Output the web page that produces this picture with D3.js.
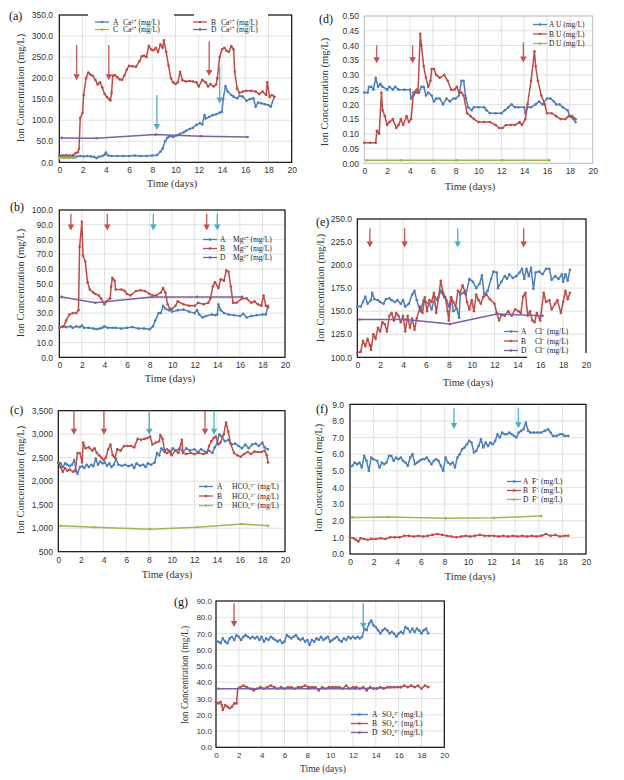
<!DOCTYPE html>
<html><head><meta charset="utf-8">
<script src="https://cdn.jsdelivr.net/npm/d3@7"></script>
<style>body{margin:0;background:#fff}svg{display:block;font-family:"Liberation Serif","Times New Roman",serif}</style>
</head><body><svg id="c" width="624" height="780"></svg>
<script>
// ---------- DATA ----------
const xTicks = [0,2,4,6,8,10,12,14,16,18,20];

// (a) Ca2+
const caA = [[0,14],[0.3,15],[0.6,13],[0.9,14],[1.2,13],[1.5,14],[1.8,15],[2.1,14],[2.4,15],[2.7,14],[3.0,13],[3.2,10],[3.4,13],[3.7,15],[3.9,18],[4.0,23],[4.2,16],[4.5,15],[5.0,15],[5.5,15],[6.0,15],[6.5,16],[7.0,15],[7.5,15],[8.0,16],[8.4,17],[8.7,25],[8.9,33],[9.1,50],[9.3,58],[9.5,62],[9.8,60],[10.1,64],[10.4,68],[10.7,71],[10.9,75],[11.2,79],[11.5,82],[11.8,89],[12.1,93],[12.3,90],[12.5,112],[12.6,104],[12.9,108],[13.2,112],[13.5,114],[13.8,118],[14.0,120],[14.1,150],[14.3,181],[14.5,168],[14.8,160],[15.0,156],[15.3,152],[15.5,158],[15.8,156],[16.1,146],[16.4,150],[16.7,152],[16.9,132],[17.1,142],[17.4,140],[17.7,138],[18.0,136],[18.2,132],[18.5,156]];
const caB = [[0,17],[0.3,16],[0.6,17],[0.9,16],[1.2,17],[1.4,22],[1.6,24],[1.7,32],[1.8,105],[2.0,117],[2.1,160],[2.3,200],[2.5,213],[2.7,208],[2.9,205],[3.1,196],[3.3,185],[3.5,190],[3.7,178],[3.9,162],[4.1,155],[4.3,150],[4.4,147],[4.5,165],[4.6,206],[4.8,207],[5.0,202],[5.2,197],[5.4,196],[5.6,206],[5.8,220],[6.0,229],[6.3,228],[6.6,227],[6.9,240],[7.1,252],[7.3,253],[7.5,250],[7.7,277],[7.9,268],[8.1,266],[8.3,272],[8.5,262],[8.7,280],[8.9,272],[9.0,290],[9.2,262],[9.4,230],[9.6,200],[9.8,190],[10.0,186],[10.2,190],[10.4,215],[10.6,195],[10.9,192],[11.2,193],[11.5,192],[11.8,190],[12.0,180],[12.3,196],[12.6,190],[12.8,180],[13.0,186],[13.3,180],[13.5,185],[13.6,200],[13.8,250],[14.0,268],[14.2,272],[14.4,265],[14.6,262],[14.8,276],[15.0,268],[15.1,215],[15.3,175],[15.5,165],[15.8,168],[16.1,170],[16.5,170],[16.9,168],[17.2,162],[17.5,168],[17.8,160],[17.9,190],[18.1,155],[18.3,160],[18.5,155]];
const caC = [[0,10],[0.2,11],[0.4,10],[0.6,11],[0.8,10],[1.0,11],[1.2,10],[1.4,11]];
const caD = [[0.2,58],[3.2,57],[8.3,66],[12.2,62],[16.2,60]];

// (b) Mg2+
const mgA = [[0,20],[0.3,21],[0.6,20.5],[1.0,21],[1.2,20],[1.5,21],[1.8,20.5],[2.0,21.5],[2.2,20],[2.6,20],[3.0,19.5],[3.3,19],[3.6,19.5],[3.8,20],[4.0,21],[4.3,20],[4.7,20],[5.0,20],[5.5,19.5],[6.0,20],[6.5,20.5],[7.0,19.5],[7.5,19.5],[8.0,19],[8.3,21],[8.5,25],[8.8,30],[9.0,30],[9.2,35],[9.4,33],[9.7,32],[10.0,31],[10.5,32],[11.0,32.5],[11.5,31],[12.0,30],[12.2,32],[12.4,29],[12.7,27],[13.0,28],[13.5,29],[13.8,28.5],[14.0,29],[14.1,36],[14.3,32],[14.6,30],[15.0,29],[15.5,28.5],[16.0,28],[16.3,29.5],[16.6,27],[17.0,28],[17.5,28.5],[18.0,29],[18.3,29],[18.5,35]];
const mgB = [[0,20],[0.4,21],[0.6,25],[0.9,29],[1.2,30],[1.5,30],[1.7,32],[1.8,75],[2.0,92],[2.1,69],[2.3,65],[2.5,51],[2.7,46],[3.0,44],[3.2,43],[3.5,42],[3.7,40],[4.0,36],[4.2,38],[4.5,40],[4.6,48],[4.7,54],[4.9,52],[5.0,46],[5.5,46],[5.8,45],[6.0,43],[6.3,42],[6.8,45],[7.2,45.5],[7.6,45],[8.0,43],[8.3,42],[8.6,42],[9.0,44],[9.2,47],[9.4,44],[9.6,36],[9.8,33],[10.0,33],[10.3,35],[10.5,38],[11.0,36],[11.5,35],[12.0,35],[12.3,37],[12.8,36],[13.2,37],[13.4,40],[13.6,48],[13.8,51],[14.1,47],[14.3,53],[14.6,52],[14.8,59],[15.0,58],[15.2,48],[15.4,37],[15.7,37],[16.2,40],[16.6,40],[17.0,37],[17.3,38],[17.6,36],[17.9,35],[18.1,42],[18.3,35],[18.5,34]];
const mgD = [[0.2,41],[3.2,37],[8.2,41],[12.2,41],[16.2,41]];

// (c) HCO3
const hcoA = [[0,2400],[0.2,2380],[0.4,2300],[0.6,2380],[0.8,2350],[1.0,2320],[1.2,2350],[1.4,2450],[1.6,2200],[1.7,2160],[1.9,2300],[2.1,2320],[2.3,2280],[2.5,2350],[2.7,2300],[2.9,2350],[3.1,2320],[3.3,2480],[3.5,2350],[3.7,2420],[3.9,2380],[4.1,2400],[4.3,2330],[4.5,2380],[4.7,2300],[4.9,2350],[5.1,2480],[5.3,2350],[5.6,2330],[5.9,2350],[6.2,2320],[6.5,2350],[6.7,2280],[6.9,2380],[7.2,2330],[7.5,2350],[7.7,2300],[7.9,2380],[8.2,2350],[8.5,2400],[8.7,2600],[8.9,2550],[9.1,2700],[9.3,2650],[9.6,2680],[9.9,2600],[10.1,2700],[10.4,2650],[10.7,2700],[11.0,2620],[11.3,2700],[11.6,2650],[12.0,2680],[12.3,2620],[12.6,2680],[13.0,2620],[13.3,2650],[13.6,2600],[13.8,2720],[14.0,2800],[14.2,3000],[14.4,2950],[14.7,2850],[15.0,2880],[15.3,2780],[15.6,2800],[15.9,2750],[16.2,2700],[16.5,2780],[16.8,2700],[17.1,2780],[17.4,2800],[17.7,2750],[18.0,2820],[18.2,2720],[18.5,2680]];
const hcoB = [[0,2400],[0.2,2300],[0.4,2200],[0.6,2280],[0.8,2220],[1.0,2250],[1.3,2200],[1.5,2230],[1.7,2600],[1.9,2600],[2.1,2400],[2.2,2820],[2.4,2700],[2.7,2720],[3.0,2650],[3.2,2700],[3.4,2600],[3.6,2550],[3.8,2500],[4.0,2450],[4.2,2500],[4.4,2680],[4.6,2780],[4.8,2550],[5.0,2500],[5.2,2680],[5.5,2650],[5.8,2750],[6.1,2750],[6.4,2750],[6.7,2720],[7.0,2900],[7.3,2880],[7.6,2900],[7.9,2920],[8.1,2950],[8.3,2780],[8.6,2820],[8.9,2850],[9.0,2980],[9.2,2900],[9.4,2620],[9.6,2600],[9.8,2650],[10.0,2550],[10.3,2650],[10.6,2600],[10.9,2880],[11.0,2600],[11.3,2580],[11.7,2600],[12.0,2580],[12.4,2600],[12.8,2580],[13.1,2600],[13.3,2750],[13.5,2850],[13.7,2920],[13.9,2950],[14.1,2780],[14.3,2820],[14.6,3000],[14.8,3250],[15.0,3050],[15.2,2800],[15.5,2600],[15.8,2550],[16.1,2520],[16.4,2580],[16.7,2620],[17.0,2580],[17.3,2630],[17.6,2620],[17.9,2620],[18.2,2650],[18.4,2550],[18.5,2400]];
const hcoD = [[0.2,1050],[3.2,1020],[8.1,980],[12.2,1020],[16.2,1090],[18.5,1050]];

// (d) U
const uA = [[0,0.24],[0.3,0.24],[0.4,0.26],[0.6,0.26],[0.8,0.25],[1.0,0.29],[1.2,0.26],[1.4,0.27],[1.6,0.26],[2.0,0.25],[2.2,0.26],[2.5,0.25],[2.7,0.26],[3.0,0.25],[3.5,0.25],[4.0,0.25],[4.1,0.22],[4.3,0.23],[4.5,0.24],[4.8,0.24],[5.0,0.26],[5.2,0.26],[5.4,0.23],[5.6,0.24],[5.9,0.23],[6.1,0.21],[6.3,0.22],[6.6,0.22],[6.9,0.20],[7.2,0.22],[7.5,0.21],[7.8,0.22],[8.0,0.22],[8.3,0.23],[8.5,0.28],[8.7,0.28],[8.9,0.22],[9.1,0.19],[9.4,0.18],[9.6,0.19],[10.0,0.19],[10.5,0.19],[10.7,0.18],[11.0,0.17],[11.5,0.17],[12.0,0.17],[12.3,0.18],[12.6,0.19],[12.9,0.20],[13.2,0.19],[13.5,0.19],[14.0,0.19],[14.1,0.17],[14.3,0.19],[14.6,0.19],[15.0,0.20],[15.3,0.21],[15.6,0.20],[16.0,0.22],[16.3,0.22],[16.6,0.21],[16.8,0.20],[17.1,0.20],[17.4,0.19],[17.8,0.18],[18.0,0.16],[18.3,0.15],[18.5,0.14]];
const uB = [[0,0.07],[0.5,0.07],[1.0,0.07],[1.1,0.11],[1.3,0.10],[1.5,0.24],[1.6,0.18],[1.8,0.16],[2.0,0.13],[2.2,0.14],[2.5,0.15],[2.8,0.12],[3.0,0.13],[3.2,0.15],[3.4,0.13],[3.7,0.16],[3.9,0.14],[4.1,0.15],[4.3,0.24],[4.6,0.25],[4.7,0.24],[4.9,0.44],[5.0,0.40],[5.2,0.33],[5.4,0.29],[5.6,0.26],[5.8,0.28],[5.9,0.32],[6.1,0.32],[6.3,0.30],[6.6,0.29],[7.0,0.30],[7.3,0.28],[7.6,0.25],[7.9,0.25],[8.1,0.26],[8.3,0.24],[8.5,0.24],[8.7,0.23],[9.0,0.17],[9.3,0.16],[9.6,0.15],[10.0,0.14],[10.5,0.14],[11.0,0.14],[11.5,0.13],[11.8,0.12],[12.1,0.12],[12.4,0.13],[12.8,0.13],[13.2,0.13],[13.6,0.14],[13.8,0.13],[14.1,0.15],[14.3,0.20],[14.6,0.28],[14.9,0.38],[15.0,0.33],[15.2,0.28],[15.5,0.23],[15.8,0.20],[16.0,0.17],[16.4,0.17],[16.8,0.16],[17.2,0.15],[17.6,0.15],[17.9,0.16],[18.2,0.16],[18.5,0.15]];
const uD = [[0.2,0.01],[3.2,0.01],[8.1,0.01],[12.1,0.01],[16.2,0.01]];

// (e) Cl-
const clA = [[0,155],[0.3,155],[0.5,160],[0.7,166],[0.9,158],[1.2,162],[1.3,170],[1.5,163],[1.8,162],[2.0,160],[2.3,158],[2.5,163],[2.8,164],[3.0,162],[3.3,160],[3.5,162],[3.8,158],[4.0,162],[4.2,155],[4.5,158],[4.8,168],[5.0,172],[5.2,162],[5.5,150],[5.8,162],[6.0,160],[6.3,158],[6.5,152],[6.8,165],[7.0,162],[7.3,172],[7.6,165],[7.8,162],[8.0,155],[8.2,165],[8.4,150],[8.7,153],[8.9,143],[9.0,168],[9.3,170],[9.5,168],[9.8,185],[10.1,182],[10.4,175],[10.7,180],[10.9,189],[11.1,168],[11.4,172],[11.7,185],[11.9,193],[12.2,192],[12.3,175],[12.6,182],[12.9,188],[13.1,185],[13.3,190],[13.6,186],[13.9,188],[14.2,192],[14.4,196],[14.6,185],[14.8,196],[15.0,188],[15.2,197],[15.4,174],[15.6,192],[15.9,193],[16.2,190],[16.5,196],[16.8,196],[17.0,184],[17.3,188],[17.6,185],[17.9,190],[18.0,182],[18.2,190],[18.4,183],[18.6,195]];
const clB = [[0,105],[0.3,106],[0.5,118],[0.7,112],[0.9,120],[1.1,113],[1.2,108],[1.4,125],[1.6,120],[1.8,132],[2.0,128],[2.2,138],[2.4,136],[2.6,128],[2.8,145],[3.0,148],[3.2,140],[3.4,148],[3.6,145],[3.8,138],[4.0,145],[4.2,128],[4.4,145],[4.6,132],[4.8,142],[5.0,130],[5.2,142],[5.5,155],[5.7,148],[5.9,165],[6.1,150],[6.3,162],[6.5,160],[6.7,170],[6.9,148],[7.1,165],[7.3,183],[7.5,170],[7.7,165],[7.9,150],[8.0,140],[8.2,165],[8.4,160],[8.6,155],[8.8,172],[9.0,170],[9.2,178],[9.4,172],[9.6,160],[9.8,152],[10.0,162],[10.2,150],[10.4,168],[10.6,162],[10.8,158],[11.0,165],[11.3,168],[11.6,163],[12.0,158],[12.2,148],[12.4,140],[12.6,146],[12.9,145],[13.2,150],[13.5,145],[13.8,152],[14.1,150],[14.3,148],[14.5,166],[14.7,170],[14.9,145],[15.1,150],[15.3,140],[15.5,138],[15.7,148],[16.0,140],[16.3,170],[16.5,160],[16.8,162],[17.0,152],[17.3,158],[17.5,162],[17.8,148],[18.0,160],[18.2,172],[18.4,163],[18.6,170]];
const clD = [[0.2,141],[4.2,141],[8.1,136],[12.2,147],[16.2,145]];

// (f) F-
const fA = [[0,5.2],[0.2,5.3],[0.4,5.5],[0.6,5.4],[0.8,5.5],[1.0,5.2],[1.2,5.9],[1.4,5.6],[1.6,5.0],[1.8,5.8],[2.0,5.7],[2.3,5.6],[2.5,5.2],[2.7,5.5],[2.9,5.4],[3.1,5.5],[3.3,5.9],[3.5,5.9],[3.7,5.6],[3.9,5.8],[4.1,5.7],[4.3,5.8],[4.5,5.6],[4.7,5.5],[4.9,5.3],[5.1,5.8],[5.3,6.0],[5.5,5.4],[5.7,5.5],[5.9,5.6],[6.1,5.7],[6.3,5.7],[6.5,5.8],[6.7,5.6],[6.9,5.4],[7.1,5.6],[7.3,5.7],[7.5,5.6],[7.7,5.3],[7.9,5.0],[8.1,5.8],[8.3,5.5],[8.5,5.4],[8.7,5.5],[8.9,5.2],[9.1,5.8],[9.3,6.0],[9.5,6.3],[9.7,6.4],[9.9,6.6],[10.1,6.8],[10.3,6.7],[10.5,6.1],[10.7,6.2],[10.9,6.5],[11.1,6.9],[11.3,6.4],[11.5,6.7],[11.7,6.5],[11.9,6.7],[12.1,6.6],[12.3,6.8],[12.5,7.2],[12.7,7.0],[12.9,7.3],[13.1,7.2],[13.3,7.2],[13.5,7.3],[13.7,7.2],[13.9,7.1],[14.1,7.0],[14.3,7.3],[14.5,7.4],[14.7,7.5],[14.9,7.9],[15.1,7.4],[15.3,7.3],[15.6,7.3],[15.9,7.3],[16.2,7.3],[16.5,7.4],[16.8,7.5],[17.0,7.3],[17.2,7.1],[17.5,7.1],[17.8,7.2],[18.0,7.2],[18.2,7.1],[18.5,7.1]];
const fB = [[0,1.0],[0.3,0.95],[0.5,0.85],[0.7,0.75],[0.9,0.95],[1.2,0.9],[1.5,0.85],[1.8,0.9],[2.2,0.9],[2.6,0.95],[3.0,0.9],[3.4,1.0],[3.8,1.0],[4.2,1.0],[4.6,1.1],[5.0,1.1],[5.4,1.05],[5.8,1.1],[6.2,1.05],[6.6,1.1],[7.0,1.15],[7.4,1.2],[7.8,1.15],[8.2,1.1],[8.6,1.05],[9.0,1.0],[9.4,1.05],[9.8,1.1],[10.2,1.05],[10.6,1.1],[11.0,1.15],[11.4,1.1],[11.8,1.1],[12.2,1.1],[12.6,1.05],[13.0,1.1],[13.4,1.05],[13.8,1.1],[14.2,1.05],[14.6,1.1],[15.0,1.05],[15.4,1.1],[15.8,1.05],[16.2,1.1],[16.6,1.2],[17.0,1.1],[17.4,1.15],[17.8,1.05],[18.2,1.1],[18.5,1.1]];
const fD = [[0.2,2.2],[3.2,2.22],[8.1,2.15],[12.2,2.18],[16.2,2.28]];

// (g) SO4 2-
const soA = [[0,65],[0.2,65],[0.4,64],[0.6,67],[0.8,65],[1.0,64],[1.2,67],[1.4,68],[1.6,66],[1.8,69],[2.0,68],[2.2,66],[2.4,68],[2.6,69],[2.8,68],[3.0,67],[3.2,68],[3.4,67],[3.6,68],[3.8,66],[4.0,68],[4.2,65],[4.4,67],[4.6,66],[4.8,68],[5.0,67],[5.2,66],[5.4,65],[5.6,66],[5.8,64],[6.0,65],[6.2,69],[6.4,68],[6.6,67],[6.8,68],[7.0,69],[7.2,67],[7.4,66],[7.6,67],[7.8,65],[8.0,66],[8.2,63],[8.4,66],[8.6,65],[8.8,67],[9.0,66],[9.2,68],[9.4,66],[9.6,67],[9.8,68],[10.0,65],[10.2,66],[10.4,67],[10.6,68],[10.8,66],[11.0,65],[11.2,67],[11.4,66],[11.6,68],[11.8,67],[12.0,68],[12.2,67],[12.4,68],[12.6,67],[12.8,68],[13.0,73],[13.2,72],[13.4,76],[13.6,78],[13.8,75],[14.0,74],[14.2,72],[14.4,70],[14.6,72],[14.8,73],[15.0,72],[15.2,70],[15.4,71],[15.6,70],[15.8,68],[16.0,70],[16.2,71],[16.4,70],[16.6,74],[16.8,73],[17.0,71],[17.2,73],[17.4,71],[17.6,73],[17.8,72],[18.0,70],[18.2,72],[18.4,73],[18.6,70]];
const soB = [[0,28],[0.2,27],[0.4,28],[0.5,26],[0.6,23],[0.8,26],[1.0,25],[1.2,24],[1.4,25],[1.6,27],[1.8,27],[1.9,36],[2.1,37],[2.4,38],[2.7,37],[3.0,36],[3.3,35],[3.6,36],[3.9,37],[4.2,36],[4.5,37],[4.8,38],[5.1,37],[5.4,36],[5.7,37],[6.0,36],[6.3,37],[6.6,37],[6.9,36],[7.2,37],[7.5,37],[7.8,38],[8.1,37],[8.4,37],[8.7,37],[9.0,35],[9.3,37],[9.6,36],[9.9,37],[10.2,37],[10.5,37],[10.8,37],[11.1,36],[11.4,38],[11.7,36],[12.0,37],[12.3,37],[12.6,36],[12.9,37],[13.2,35],[13.5,37],[13.8,36],[14.1,36],[14.4,37],[14.7,36],[15.0,37],[15.3,37],[15.6,37],[15.9,37],[16.2,37],[16.5,38],[16.8,37],[17.1,38],[17.4,37],[17.7,38],[18.0,36],[18.3,38],[18.6,37]];
const soD = [[0.2,36],[3.2,36],[8.1,36],[12.2,36],[16.2,37]];

// arrows: [day, from, to, kind]
const arrowsA = [[1.49,279,195,"r"],[4.26,279,195,"r"],[12.9,287,205,"r"],[8.4,160,77,"t"],[13.8,227,140,"t"]];
const arrowsB = [[1.03,97.5,86,"r"],[4.25,97.5,86,"r"],[8.33,97.5,86,"t"],[13.06,97.5,86,"r"],[14.0,97.5,86,"t"]];
const arrowsC = [[1.38,3500,2990,"r"],[4.03,3500,2990,"r"],[8.03,3500,2990,"t"],[12.94,3500,2990,"r"],[13.74,3500,2990,"t"]];
const arrowsD = [[1.08,0.40,0.34,"r"],[4.23,0.40,0.34,"r"],[13.93,0.41,0.342,"r"]];
const arrowsE = [[1.1,240,219,"r"],[4.14,240,219,"r"],[8.78,240,219,"t"],[14.55,240,219,"r"]];
const arrowsF = [[8.81,8.76,7.52,"t"],[14.27,8.8,7.56,"t"]];
const arrowsG = [[1.58,88.6,74,"r"],[12.9,88.6,73,"t"]];

// ---------- STYLE ----------
const C = {A:"#4a7ebb",B:"#be4b48",G:"#98b954",P:"#7d60a0"};
const ARROW = {r:"#c0504d", t:"#4bacc6"};

const panels = [
 {id:"(a)", l:59.3,r:291.7,t:15,b:162.3, dom:[0,350], step:50, fmt:".1f", frame:"#000",
  lab:[9,20], yt:[24,88], xt:[172,187], ytEnd:53, fs:8.5, tfs:10.5,
  series:[{d:caA,c:C.A,k:"A"},{d:caB,c:C.B,k:"B"},{d:caC,c:C.G,k:"C"},{d:caD,c:C.P,k:"D"}],
  arrows:arrowsA,
  legBg:[[88,11,86,23],[194,11,74,23]],
  legend:[{x:95,y:22,k:"A",c:C.A,t:"Ca²⁺ (mg/L)"},{x:95,y:29.5,k:"C",c:C.G,t:"Ca²⁺ (mg/L)"},
          {x:193,y:22,k:"B",c:C.B,t:"Ca²⁺ (mg/L)"},{x:193,y:29.5,k:"D",c:C.P,t:"Ca²⁺ (mg/L)"}],
  lo:[14,18,28]},
 {id:"(d)", l:364.3,r:592.7,t:16,b:163.3, dom:[0,0.5], step:0.05, fmt:".2f", frame:"#bfbfbf",
  lab:[319,23], yt:[328,92], xt:[470,190], ytEnd:359, fs:8.5, tfs:10.5,
  series:[{d:uA,c:C.A},{d:uB,c:C.B},{d:uD,c:C.G}],
  arrows:arrowsD, legBg:[],
  legend:[{x:533,y:24.5,k:"A",c:C.A,t:"U (mg/L)"},{x:533,y:34,k:"B",c:C.B,t:"U (mg/L)"},{x:533,y:43.5,k:"D",c:C.G,t:"U (mg/L)"}],
  lo:[14,16,23]},
 {id:"(b)", l:59.3,r:285,t:210,b:357.3, dom:[0,100], step:10, fmt:".1f", frame:"#000",
  lab:[10,211], yt:[24,283], xt:[170,382], ytEnd:53, fs:8.5, tfs:10.5,
  series:[{d:mgA,c:C.A},{d:mgB,c:C.B},{d:mgD,c:C.P}],
  arrows:arrowsB, legBg:[],
  legend:[{x:203,y:239.5,k:"A",c:C.A,t:"Mg²⁺ (mg/L)"},{x:203,y:248.5,k:"B",c:C.B,t:"Mg²⁺ (mg/L)"},{x:203,y:257.5,k:"D",c:C.P,t:"Mg²⁺ (mg/L)"}],
  lo:[14,17,30]},
 {id:"(e)", l:357.3,r:586,t:219,b:357.3, dom:[100,250], step:25, fmt:".1f", frame:"#000",
  lab:[316,226], yt:[324,288], xt:[468,386], ytEnd:352, fs:8.5, tfs:10.5,
  series:[{d:clA,c:C.A},{d:clB,c:C.B},{d:clD,c:C.P}],
  arrows:arrowsE, legBg:[[527,353,66,9]],
  legend:[{x:504,y:331.5,k:"A",c:C.A,t:"Cl⁻ (mg/L)"},{x:504,y:341,k:"B",c:C.B,t:"Cl⁻ (mg/L)"},{x:504,y:350.5,k:"D",c:C.P,t:"Cl⁻ (mg/L)"}],
  lo:[14,17,31]},
 {id:"(c)", l:58.3,r:285,t:410.7,b:551.7, dom:[500,3500], step:500, fmt:",", frame:"#000",
  lab:[10,414], yt:[24,480], xt:[167,578], ytEnd:53, fs:8.5, tfs:10.5,
  series:[{d:hcoA,c:C.A},{d:hcoB,c:C.B},{d:hcoD,c:C.G}],
  arrows:arrowsC, legBg:[],
  legend:[{x:199,y:486.5,k:"A",c:C.A,t:"HCO₃²⁻ (mg/L)"},{x:199,y:496,k:"B",c:C.B,t:"HCO₃²⁻ (mg/L)"},{x:199,y:505.5,k:"D",c:C.G,t:"HCO₃²⁻ (mg/L)"}],
  lo:[14,18,33]},
 {id:"(f)", l:350,r:586,t:404.3,b:554, dom:[0,9], step:1, fmt:".1f", frame:"#000",
  lab:[316,413], yt:[322,478], xt:[470,580], ytEnd:344, fs:8.5, tfs:10.5,
  series:[{d:fA,c:C.A},{d:fB,c:C.B},{d:fD,c:C.G}],
  arrows:arrowsF, legBg:[],
  legend:[{x:507,y:481.5,k:"A",c:C.A,t:"F⁻ (mg/L)"},{x:507,y:490.5,k:"B",c:C.B,t:"F⁻ (mg/L)"},{x:507,y:499.5,k:"D",c:C.G,t:"F⁻ (mg/L)"}],
  lo:[14,16,25]},
 {id:"(g)", l:216,r:444.3,t:601,b:747.3, dom:[0,90], step:10, fmt:".1f", frame:"#000",
  lab:[174,606], yt:[188,675], xt:[323,772], ytEnd:212, fs:8, tfs:9.5,
  series:[{d:soA,c:C.A},{d:soB,c:C.B},{d:soD,c:C.P}],
  arrows:arrowsG, legBg:[],
  legend:[{x:351,y:714.5,k:"A",c:C.A,t:"SO₄²⁻ (mg/L)"},{x:351,y:723.5,k:"B",c:C.B,t:"SO₄²⁻ (mg/L)"},{x:351,y:732.5,k:"D",c:C.P,t:"SO₄²⁻ (mg/L)"}],
  lo:[17,21,31]}
];

const svg = d3.select("#c");

function drawPanel(p){
  const g = svg.append("g");
  const x = d3.scaleLinear().domain([0,20]).range([p.l,p.r]);
  const y = d3.scaleLinear().domain(p.dom).range([p.b,p.t]);
  const yTicks = d3.range(p.dom[0], p.dom[1] + p.step/2, p.step);
  // grid
  g.append("g").selectAll("line").data(xTicks).join("line")
    .attr("x1",d=>x(d)).attr("x2",d=>x(d)).attr("y1",p.t).attr("y2",p.b)
    .attr("stroke","#d9d9d9").attr("stroke-width",0.8);
  g.append("g").selectAll("line").data(yTicks).join("line")
    .attr("x1",p.l).attr("x2",p.r).attr("y1",d=>y(d)).attr("y2",d=>y(d))
    .attr("stroke","#d9d9d9").attr("stroke-width",0.8);
  // frame
  g.append("rect").attr("x",p.l).attr("y",p.t).attr("width",p.r-p.l).attr("height",p.b-p.t)
    .attr("fill","none").attr("stroke",p.frame).attr("stroke-width",p.frame==="#000"?1.1:0.9);
  // axes
  const ax = g.append("g").attr("transform",`translate(0,${p.b})`)
    .call(d3.axisBottom(x).tickValues(xTicks).tickSize(0).tickPadding(5).tickFormat(d3.format("d")));
  ax.select(".domain").remove();
  ax.selectAll("text").attr("font-size",p.fs).attr("fill","#333").style("font-family","inherit");
  const ay = g.append("g").attr("transform",`translate(${p.l},0)`)
    .call(d3.axisLeft(y).tickValues(yTicks).tickSize(0).tickPadding(p.l-p.ytEnd).tickFormat(d3.format(p.fmt)));
  ay.select(".domain").remove();
  ay.selectAll("text").attr("font-size",p.fs).attr("fill","#333").style("font-family","inherit");
  // series
  const line = d3.line().x(d=>x(d[0])).y(d=>y(d[1]));
  p.series.forEach(s=>{
    g.append("path").datum(s.d).attr("d",line).attr("fill","none")
      .attr("stroke",s.c).attr("stroke-width",1.5).attr("stroke-linejoin","round");
    g.append("g").selectAll("circle").data(s.d).join("circle")
      .attr("cx",d=>x(d[0])).attr("cy",d=>y(d[1])).attr("r",1.3).attr("fill",s.c);
  });
  // arrows
  p.arrows.forEach(a=>{
    const ax0 = x(a[0]), y1 = y(a[1]), y2 = y(a[2]), col = ARROW[a[3]];
    g.append("line").attr("x1",ax0).attr("x2",ax0).attr("y1",y1).attr("y2",y2-5)
      .attr("stroke",col).attr("stroke-width",1.4).attr("opacity",0.9);
    g.append("path").attr("d",`M${ax0-3.2},${y2-6}L${ax0+3.2},${y2-6}L${ax0},${y2}Z`).attr("fill",col);
  });
  // legend
  p.legBg.forEach(b=>g.append("rect").attr("x",b[0]).attr("y",b[1]).attr("width",b[2]).attr("height",b[3]).attr("fill","#fff"));
  p.legend.forEach(e=>{
    g.append("line").attr("x1",e.x).attr("x2",e.x+p.lo[0]).attr("y1",e.y).attr("y2",e.y)
      .attr("stroke",e.c).attr("stroke-width",1.3);
    g.append("circle").attr("cx",e.x+p.lo[0]/2).attr("cy",e.y).attr("r",1.3).attr("fill",e.c);
    g.append("text").attr("x",e.x+p.lo[1]).attr("y",e.y+2.5).attr("font-size",7.5).attr("fill","#222").text(e.k);
    g.append("text").attr("x",e.x+p.lo[2]).attr("y",e.y+2.5).attr("font-size",7.5).attr("fill","#222").text(e.t);
  });
  // titles
  g.append("text").attr("x",p.lab[0]).attr("y",p.lab[1]).attr("font-size",12).attr("fill","#111").text(p.id);
  g.append("text").attr("transform",`translate(${p.yt[0]},${p.yt[1]}) rotate(-90)`)
    .attr("text-anchor","middle").attr("font-size",p.tfs).attr("fill","#333").text("Ion Concentration (mg/L)");
  g.append("text").attr("x",p.xt[0]).attr("y",p.xt[1]).attr("text-anchor","middle")
    .attr("font-size",p.tfs).attr("fill","#333").text("Time (days)");
}
panels.forEach(drawPanel);
</script></body></html>
